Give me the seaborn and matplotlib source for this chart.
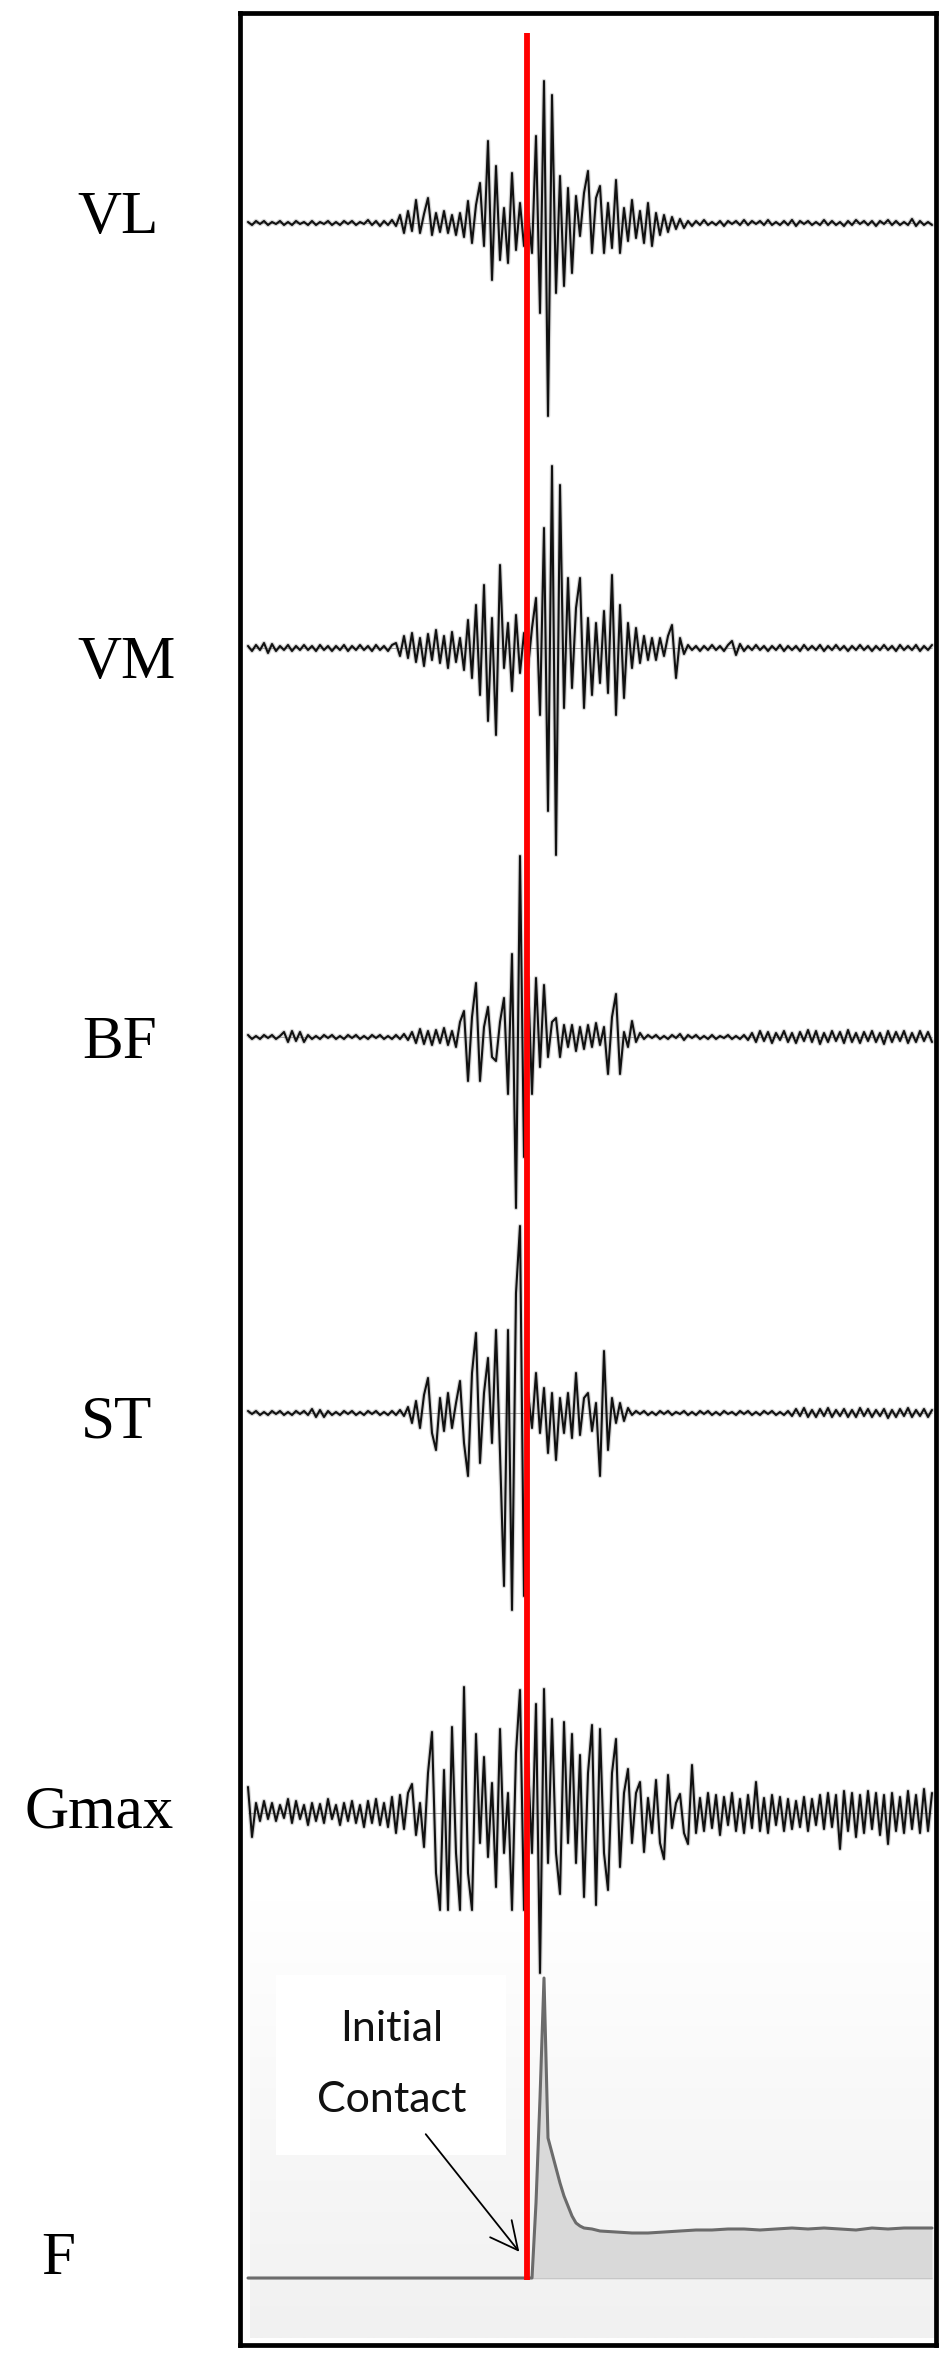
import numpy as np
import pandas as pd
import matplotlib
matplotlib.use("Agg")
import matplotlib.pyplot as plt
import seaborn as sns
from matplotlib.patches import Rectangle

# EMG amplitudes (one value every sample, positive = up)
vl = [1, -2, 2, -1, 2, -2, 1, -1, 2, -2, 1, -2, 2, -1, 1, -2, 2, -2, 1, -1,
      2, -2, 1, -2, 2, -1, 2, -2, 1, -1, 3, -2, 2, -3, 2, -2, 3, -3,
      8, -10, 12, -8, 23, -10, 9, 25, -12, 10, -9, 12, -10, 8, -12, 10, -14, 22, -20, 18,
      40, -23, 82, -57, 57, -37, 15, -40, 50, -27, 20, -23, 10, -30, 87, -90, 142, -193, 128, -70,
      47, -63, 35, -50, 27, -13, 30, 52, -30, 25, 37, -30, 20, -25, 43, -30, 15, -18, 23, -15,
      12, -20, 20, -23, 10, -12, 8, -9, 6, -6, 4, -5,
      2, -3, 2, -2, 3, -2, 1, -2, 2, -3, 2, -1, 2, -2, 3, -2, 2, -1, 2, -2,
      3, -2, 1, -2, 2, -2, 3, -3, 2, -1, 2, -2, 1, -2, 3, -2, 2, -2, 1, -3,
      2, -2, 3, -1, 2, -2, 2, -3, 2, -1, 3, -2, 2, -2, 1, -2, 4, -3, 2, -2, 1, -2]

vm = [2, -3, 3, -2, 5, -5, 4, -3, 2, -2, 3, -3, 2, -2, 3, -2, 2, -3, 3, -2,
      2, -3, 2, -2, 3, -3, 2, -2, 3, -2, 2, -3, 3, -2, 2, -3, 3,
      5, -8, 12, -10, 15, -14, 10, -18, 14, -12, 18, -15, 12, -20, 16, -14, 10, -22, 28, -30,
      43, -47, 63, -73, 30, -87, 83, -20, 25, -43, 33, -25, 15, -20, 20, 50, -67, 120, -163, 182,
      -207, 163, -60, 70, -40, 40, 70, -60, 30, -47, 25, -35, 37, -45, 73, -67, 43, -50, 25, -20,
      20, -15, 12, -12, 10, -12, 10, -8, 12, 23, -30, 10, -6,
      3, -2, 2, -3, 2, -2, 3, -2, 2, -3, 3, 7, -7, 4, -3, 2, -2, 3, -2, 2,
      -3, 2, -2, 3, -3, 2, -2, 2, -3, 3, -2, 2, -2, 3, -3, 2, -2, 3, -2, 2,
      -3, 2, -2, 3, -2, 2, -3, 2, -2, 3, -2, 2, -3, 3, -2, 2, -2, 3, -3, 2, -2, 3]

bf = [2, -2, 1, -2, 2, -1, 2, -2, 1, 5, -5, 6, -4, 5, -5, 2, -2, 1, -2, 2,
      -1, 2, -2, 1, -2, 2, -1, 2, -2, 1, -2, 2, -1, 2, -2, 1, -2, 2, -2, 3, -3,
      5, -6, 8, -7, 6, -8, 7, -6, 9, -8, 6, -10, 15, 26, -44, 20, 54, -44, 10, 30,
      -20, -24, 15, 39, -57, 83, -171, 181, -120, 60, -57, 59, -30, 52, -20, 15, 19, -20, 12, -10,
      12, -14, 10, -12, 12, -10, 14, -8, 10, -37, 20, 43, -37, 5, -10, 16, -5, 4,
      -2, 2, -1, 2, -2, 1, -2, 2, -1, 3, -3, 2, -1, 2, -2, 1, -2, 2, -2, 1,
      -1, 2, -2, 1, -2, 2, -3,
      4, -5, 6, -4, 5, -6, 4, -3, 6, -5, 4, -6, 5, -4, 7, -5, 6, -7, 4, -5,
      6, -4, 5, -6, 7, -5, 4, -6, 5, -4, 6, -5, 4, -7, 6, -5, 5, -4, 6, -6,
      4, -5, 6, -4, 5, -5]

st = [2, -1, 2, -2, 1, -2, 2, -1, 2, -2, 1, -2, 2, -1, 2, -2, 4, -4, 3, -4,
      2, -2, 1, -2, 2, -1, 2, -2, 1, -2, 2, -1, 2, -2, 1, -2, 2, -2, 3, -3,
      6, -10, 12, -15, 18, 35, -20, -37, 15, -18, 20, -15, 10, 32, -30, -63, 40, 80, -50, 20,
      55, -30, 83, -40, -173, 83, -197, 120, 187, -183, 20, -15, 40, -20, 25, -40, 20, -47, 15, -20,
      20, -25, 40, -22, 15, 20, -18, 10, -63, 62, -37, 15, -10, 10, -8, 5,
      -2, 2, -1, 2, -2, 1, -2, 2, -1, 2, -2, 1, -1, 2, -2, 1, -2, 2, -1, 2,
      -2, 1, -2, 2, -1, 1, -2, 2, -1, 2, -2, 1, -2, 2, -1, 2, -2, 1, -2, 2,
      -3, 4, -3, 5, -4, 3, -4, 4, -3, 5, -4, 3, -3, 4, -4, 3, -4, 5, -3, 4,
      -4, 3, -3, 4, -5, 3, -4, 4, -3, 5, -4, 3, -3, 4, -4, 3]

gmax = [26, -24, 10, -8, 12, -6, 10, -8, 8, -5, 14, -10, 12, -6, 8, -12, 10, -8, 9, -10,
        14, -6, 8, -12, 10, -8, 12, -10, 8, -14, 12, -10, 14, -12, 10, -14, 16, -20, 18, -16,
        20, 29, -22, 10, -34, 40, 81, -60, -97, 43, -97, 86, -40, -97, 126, -60, -97, 79, -30, 56,
        -44, 30, -74, 84, -40, 20, -97, 60, 123, -97, 50, -40, 109, -160, 124, -50, 94, -40, -81, 91,
        -30, 79, -50, 58, -84, 40, 88, -92, 84, -40, -77, 40, 74, -54, 20, 44, -30, 20, 31, -39,
        15, -20, 33, -30, -46, 38, -15, 10, 19, -20, -31, 48, -20, 15, -18, 20, -15, 18, -22, 16,
        -12, 20, -18, 14, -20, 18, -15, 31, -18, 15, -20, 18, -12, 16, -18, 14, -16, 12, -14, 16,
        -18, 14, -12, 18, -16, 20, -14, 18, -36, 22, -18, 20, -24, 18, -20, 22, -16, 20, -22, 18,
        -31, 20, -18, 16, -20, 22, -16, 18, -20, 24, -18, 20]

# ground reaction force (sample index, amplitude)
force_t = [0, 70, 71, 72, 73, 74, 75, 76, 77, 78, 79, 80, 81, 82, 83, 84, 86, 88,
           92, 96, 100, 104, 108, 112, 116, 120, 124, 128, 132, 136, 140, 144,
           148, 152, 156, 160, 164, 168, 171]
force_v = [0, 0, 0, 75, 180, 300, 140, 125, 110, 95, 82, 72, 62, 55, 52, 50, 49, 47,
           46, 45, 45, 46, 47, 48, 48, 49, 49, 48, 49, 50, 49, 50,
           49, 48, 50, 49, 50, 50, 50]

contact_idx = 69.8
channels = ['VL', 'VM', 'BF', 'ST', 'Gmax']
signals = [vl, vm, bf, st, gmax]

# layout (pixel rows in the 949x2363 canvas)
W, H = 949, 2363
row_px = [223, 648, 1037, 1413, 1813]
force_row_px = 2278
label_x_px = [118, 127, 120, 117, 99, 58]
label_base_px = [233, 678, 1058, 1437, 1827, 2274]


def ydat(px):
    return 2345 - px


def xdat(px):
    return (px - 248) / 4.0


sns.set_theme(style='white')
fig = plt.figure(figsize=(W / 100, H / 100), dpi=100)
ax = fig.add_axes([240 / W, (H - 2345) / H, (936 - 240) / W, (2345 - 13) / H])
ax.set_xlim(xdat(240), xdat(936))
ax.set_ylim(0, 2332)
ax.set_xticks([])
ax.set_yticks([])
for sp in ax.spines.values():
    sp.set_visible(True)
    sp.set_color('black')
    sp.set_linewidth(3.4)

# force panel background
grad = np.linspace(0, 1, 200).reshape(-1, 1)
cmap = matplotlib.colors.LinearSegmentedColormap.from_list('bg', ['#ffffff', '#f1f1f1'])
ax.imshow(grad, extent=(xdat(250), xdat(936), ydat(2338), ydat(1900)),
          aspect='auto', cmap=cmap, zorder=0, interpolation='bilinear')
ax.add_patch(Rectangle((xdat(276), ydat(2155)), xdat(506) - xdat(276), 180,
                       facecolor='white', edgecolor='none', zorder=0.5))

for name, sig, rp in zip(channels, signals, row_px):
    t = np.arange(len(sig))
    base = ydat(rp)
    y = np.array(sig) + base
    ax.hlines(base, 0, len(sig) - 1, color='#9a9a9a', lw=0.6, zorder=1)
    # soft halo mimics the blurred scan of the original traces
    sns.lineplot(x=t, y=y, ax=ax, color='#888888', alpha=0.35,
                 linewidth=3.2, sort=False, estimator=None, legend=False, zorder=1.5)
    sns.lineplot(x=t, y=y, ax=ax, color='#111111',
                 linewidth=1.5, sort=False, estimator=None, legend=False, zorder=2)

# force trace
fb = ydat(force_row_px)
ft = np.array(force_t)
fv = np.array(force_v) + fb
ax.hlines(fb, 0, 171, color='#b5b5b5', lw=1.0, zorder=1)
ax.fill_between(ft, fb, fv, color='#d9d9d9', lw=0, zorder=1.2)
sns.lineplot(x=ft, y=fv, ax=ax, color='#6b6b6b', linewidth=2.2,
             sort=False, estimator=None, legend=False, zorder=2)

# initial contact marker
ax.vlines(contact_idx, ydat(2280), ydat(33), color='#ff0000', lw=4.2, zorder=5)
ax.annotate('', xy=(xdat(521), ydat(2254)), xytext=(xdat(424), ydat(2132)),
            arrowprops=dict(arrowstyle='->,head_length=0.9,head_width=0.45',
                            color='black', lw=1.3, mutation_scale=22), zorder=6)
ax.text(xdat(392), ydat(2029), 'Initial', ha='center', va='center',
        fontsize=31, family='Lato', color='#111111', zorder=6)
ax.text(xdat(392), ydat(2100), 'Contact', ha='center', va='center',
        fontsize=31, family='Lato', color='#111111', zorder=6)

for name, lx, lb in zip(channels + ['F'], label_x_px, label_base_px):
    fig.text(lx / W, 1 - lb / H, name, ha='center', va='baseline',
             fontsize=44, family='Liberation Serif', color='black')

fig.savefig('out.png', dpi=100)
